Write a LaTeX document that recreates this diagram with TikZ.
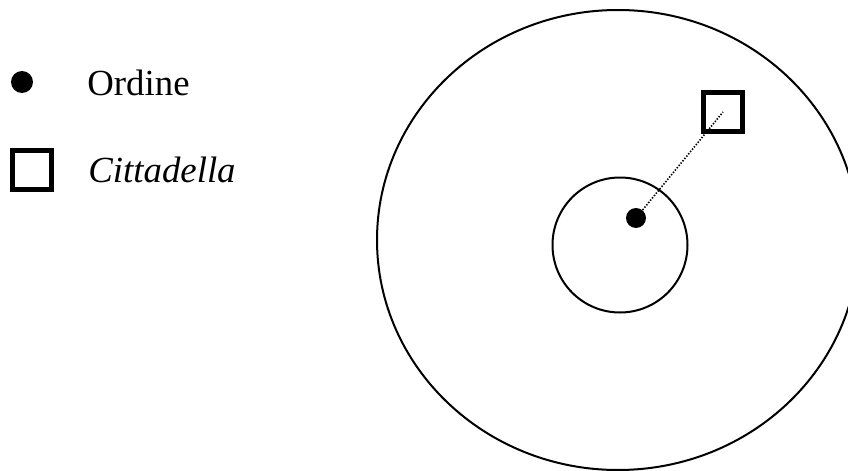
\documentclass[tikz,border=0pt]{standalone}
\usepackage{fontspec}
\setmainfont{Liberation Serif}
\usetikzlibrary{positioning}

\begin{document}
\begin{tikzpicture}[x=0.5pt,y=-0.5pt,
    ordine/.style={circle,fill=black,inner sep=0pt},
    citta/.style={draw=black,line width=2.5pt,minimum size=19.5pt,inner sep=0pt},
    legtext/.style={anchor=base west,inner sep=0pt,font=\fontsize{18.4}{22}\selectfont}]
        \useasboundingbox (0,0) rectangle (848,471);
        \clip (0,0) rectangle (848,471);
        % legenda
        \node[ordine,minimum size=11pt] (ordleg) at (22,82) {};
        \node[legtext] (ordlab) at (87,95) {Ordine};
        \node[citta] (citleg) at (31.5,169.5) {};
        \node[legtext] (citlab) at (88,182) {\textit{Cittadella}};
        % territorio
        \draw[line width=1pt] (618,240) ellipse [x radius=241,y radius=230];
        \draw[line width=1pt] (620,245) circle [radius=67.5];
        \node[ordine,minimum size=10pt] (ord) at (636,218) {};
        \node[citta] (cit) at (723,112) {};
        \draw[line width=0.8pt,dash pattern=on 0.7pt off 0.8pt] (ord) -- (cit.center);
\end{tikzpicture}
\end{document}
